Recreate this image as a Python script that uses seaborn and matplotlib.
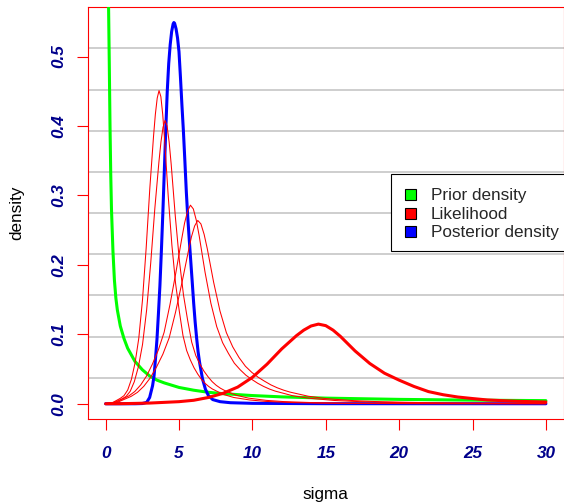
import matplotlib
matplotlib.use("Agg")
import matplotlib.pyplot as plt
import seaborn as sns
import pandas as pd
from matplotlib.patches import Patch, Rectangle
from matplotlib.legend_handler import HandlerPatch

# ---------------- data ----------------
prior_sigma = [0.1, 0.15, 0.2, 0.25, 0.3, 0.35, 0.4, 0.5, 0.6, 0.7, 0.8, 1.0, 1.25, 1.5,
               2.0, 2.5, 3.0, 3.5, 4.0, 5.0, 6.0, 7.0, 8.0, 10, 12, 15, 20, 25, 30]
prior_dens = [1.15, 0.77, 0.575, 0.49, 0.40, 0.33, 0.28, 0.22, 0.178, 0.152, 0.135, 0.112,
              0.094, 0.080, 0.061, 0.049, 0.040, 0.034, 0.030, 0.0235, 0.0195, 0.0165,
              0.0145, 0.0118, 0.0099, 0.0081, 0.0063, 0.0052, 0.0045]

post_sigma = [0, 1.0, 2.0, 2.5, 2.8, 3.0, 3.2, 3.3, 3.4, 3.5, 3.6, 3.7, 3.8, 3.9, 4.0, 4.1,
              4.2, 4.3, 4.4, 4.5, 4.6, 4.65, 4.7, 4.8, 4.9, 5.0, 5.1, 5.2, 5.3, 5.4, 5.5,
              5.6, 5.7, 5.8, 5.9, 6.0, 6.1, 6.2, 6.3, 6.4, 6.6, 6.8, 7.0, 7.3, 7.8, 8.5,
              10, 15, 30]
post_dens = [0, 0, 0, 0.0003, 0.002, 0.009, 0.026, 0.040, 0.065, 0.093, 0.130, 0.170,
             0.220, 0.275, 0.335, 0.395, 0.450, 0.490, 0.517, 0.536, 0.547, 0.549, 0.548,
             0.540, 0.527, 0.507, 0.470, 0.430, 0.393, 0.350, 0.305, 0.268, 0.236, 0.206,
             0.176, 0.145, 0.118, 0.095, 0.075, 0.060, 0.036, 0.021, 0.012, 0.006, 0.003,
             0.0015, 0.0006, 0.0001, 0]

# thick likelihood (all data)
lik_sigma = [0, 1, 2, 3, 4, 5, 6, 7, 8, 9, 10, 11, 12, 13, 13.5, 14, 14.5, 15, 15.5, 16,
             17, 18, 19, 20, 21, 22, 23, 24, 25, 26, 27, 28, 29, 30]
lik_dens = [0, 0.0001, 0.0005, 0.001, 0.002, 0.003, 0.005, 0.009, 0.015, 0.024, 0.038,
            0.057, 0.079, 0.098, 0.106, 0.112, 0.1147, 0.1125, 0.106, 0.097, 0.076, 0.058,
            0.044, 0.034, 0.025, 0.0175, 0.013, 0.0097, 0.0075, 0.0055, 0.0045, 0.0036,
            0.0030, 0.0025]

# thin likelihood curves
likA_sigma = [0, 0.502, 1.005, 1.256, 1.507, 1.758, 2.009, 2.260, 2.512, 2.763, 3.014,
              3.265, 3.389, 3.516, 3.64, 3.764, 3.891, 4.015, 4.266, 4.517, 4.768, 5.020,
              5.271, 5.522, 5.773, 6.024, 6.275, 6.527, 6.778, 7.029, 7.28, 8.008, 8.736,
              9.828, 10.92, 12.74, 14.56, 18.2, 21.84, 30.0]
likA_dens = [0, 0.00198, 0.00785, 0.01173, 0.01984, 0.03518, 0.05908, 0.09426, 0.14928,
             0.22415, 0.31074, 0.38515, 0.41672, 0.44018, 0.451, 0.44243, 0.41672, 0.38155,
             0.29901, 0.22821, 0.17318, 0.13350, 0.09832, 0.07667, 0.06314, 0.05187,
             0.04285, 0.03518, 0.02932, 0.02481, 0.0212, 0.01353, 0.00902, 0.00541, 0.00338,
             0.00171, 0.0009, 0.00032, 0.00014, 0.00005]

likB_sigma = [0, 0.559, 1.118, 1.397, 1.677, 1.956, 2.236, 2.515, 2.795, 3.074, 3.353,
              3.633, 3.771, 3.912, 4.05, 4.188, 4.329, 4.467, 4.747, 5.026, 5.306, 5.585,
              5.864, 6.144, 6.423, 6.703, 6.982, 7.262, 7.541, 7.821, 8.1, 8.91, 9.72,
              10.935, 12.15, 14.175, 16.2, 20.25, 24.3, 30.0]
likB_dens = [0, 0.0018, 0.0071, 0.0106, 0.018, 0.0318, 0.0534, 0.0853, 0.135, 0.2028,
             0.2811, 0.3484, 0.377, 0.3982, 0.408, 0.4002, 0.377, 0.3452, 0.2705, 0.2064,
             0.1567, 0.1208, 0.0889, 0.0694, 0.0571, 0.0469, 0.0388, 0.0318, 0.0265, 0.0224,
             0.0192, 0.0122, 0.0082, 0.0049, 0.0031, 0.0016, 0.0008, 0.0003, 0.0001, 0.00005]

likC_sigma = [0, 0.798, 1.595, 1.994, 2.393, 2.792, 3.191, 3.589, 3.988, 4.387, 4.786,
              5.185, 5.381, 5.583, 5.78, 5.977, 6.179, 6.375, 6.774, 7.173, 7.572, 7.971,
              8.369, 8.768, 9.167, 9.566, 9.965, 10.364, 10.762, 11.161, 11.56, 12.716,
              13.872, 15.606, 17.34, 20.23, 23.12, 30.0]
likC_dens = [0, 0.00286, 0.01144, 0.01773, 0.02717, 0.04004, 0.0572, 0.07722, 0.10296,
             0.143, 0.18876, 0.23738, 0.26026, 0.27742, 0.286, 0.28057, 0.26426, 0.24196,
             0.18962, 0.14472, 0.11100, 0.0880, 0.0725, 0.0585, 0.0490, 0.0410,
             0.0350, 0.0295, 0.0250, 0.0212, 0.0182, 0.0117, 0.0079, 0.0047,
             0.0030, 0.0016, 0.0009, 0.0003]

likD_sigma = [0, 0.867, 1.733, 2.167, 2.6, 3.033, 3.467, 3.9, 4.333, 4.767, 5.2, 5.633,
              5.847, 6.066, 6.28, 6.494, 6.713, 6.927, 7.36, 7.793, 8.227, 8.66, 9.093,
              9.527, 9.96, 10.393, 10.827, 11.26, 11.693, 12.127, 12.56, 13.816, 15.072,
              16.956, 18.84, 21.98, 25.12, 30.0]
likD_dens = [0, 0.00264, 0.01056, 0.01637, 0.02508, 0.03696, 0.0528, 0.07128, 0.09504,
             0.132, 0.17424, 0.21912, 0.24024, 0.25608, 0.264, 0.25898, 0.24394, 0.22334,
             0.17503, 0.13358, 0.10250, 0.0820, 0.0665, 0.0540, 0.0452, 0.0382,
             0.0325, 0.0272, 0.0230, 0.0196, 0.0168, 0.0108, 0.0073, 0.0044,
             0.0028, 0.0015, 0.0008, 0.0003]

x_ticks = [0, 5, 10, 15, 20, 25, 30]
x_tick_labels = ["0", "5", "10", "15", "20", "25", "30"]
y_ticks = [0.0, 0.1, 0.2, 0.3, 0.4, 0.5]
y_tick_labels = ["0.0", "0.1", "0.2", "0.3", "0.4", "0.5"]
legend_labels = ["Prior density", "Likelihood", "Posterior density"]
legend_colors = ["#00FF00", "#FF0000", "#0000FF"]

# ---------------- styling ----------------
sns.set_style("white")
plt.rcParams["font.family"] = ["Liberation Sans", "DejaVu Sans"]

W, H = 564, 503
fig = plt.figure(figsize=(W / 100, H / 100), dpi=100)
left, right, top, bottom = 88, 563.5, 7.3, 419
ax = fig.add_axes([left / W, (H - bottom) / H, (right - left) / W, (bottom - top) / H])

ymax = max(post_dens)
y0, y1 = -0.04 * ymax, 1.04 * ymax
ax.set_xlim(-1.2, 31.2)
ax.set_ylim(y0, y1)

# grid (10 equal cells of the plot region)
for k in range(1, 10):
    ax.axhline(y0 + k * (y1 - y0) / 10, color="#C4C4C4", lw=1.15, zorder=1)

thin = 0.75
thick = 2.2
sns.lineplot(x=prior_sigma, y=prior_dens, ax=ax, color="#00FF00", lw=thick,
             sort=False, estimator=None, zorder=3)
sns.lineplot(x=post_sigma, y=post_dens, ax=ax, color="#0000FF", lw=thick,
             sort=False, estimator=None, zorder=3)
for xs, ys in [(likA_sigma, likA_dens), (likB_sigma, likB_dens),
               (likC_sigma, likC_dens), (likD_sigma, likD_dens)]:
    sns.lineplot(x=xs, y=ys, ax=ax, color="#FF0000", lw=thin,
                 sort=False, estimator=None, zorder=4)
sns.lineplot(x=lik_sigma, y=lik_dens, ax=ax, color="#FF0000", lw=thick,
             sort=False, estimator=None, zorder=5)

for sp in ax.spines.values():
    sp.set_color("#FF0000")
    sp.set_linewidth(0.8)
    sp.set_visible(True)

tick_font = dict(family=["Liberation Sans", "DejaVu Sans"], weight="bold",
                 style="italic", size=12.3, color="#00008B")
ax.set_xticks(x_ticks)
ax.set_xticklabels(x_tick_labels, **tick_font)
ax.set_yticks(y_ticks)
ax.set_yticklabels(y_tick_labels, **tick_font)
for lbl in ax.get_yticklabels():
    lbl.set_rotation(90)
    lbl.set_va("center")
    lbl.set_ha("right")
ax.tick_params(axis="both", direction="out", length=7.9, width=0.8, color="#FF0000",
               bottom=True, left=True)
ax.tick_params(axis="x", pad=11.2)
ax.tick_params(axis="y", pad=7.7)

ax.set_xlabel("sigma", fontsize=12.3, color="black", va="center")
ax.xaxis.set_label_coords(0.5, (bottom - 494) / (bottom - top))
ax.set_ylabel("density", fontsize=12.3, color="black", va="center", ha="center")
ax.yaxis.set_label_coords((17 - left) / (right - left), 0.5)


def square(legend, orig_handle, xdescent, ydescent, width, height, fontsize):
    s = 7.9
    return Rectangle((-xdescent, -ydescent + (height - s) / 2), s, s)


# legend frame (R style box, pinned to the right edge of the plot)
frame = Rectangle((391 / W, (H - 251) / H), (W + 20 - 391) / W, 77 / H,
                  transform=fig.transFigure, facecolor="white", edgecolor="black",
                  linewidth=0.8, clip_on=False, zorder=9)
ax.add_patch(frame)

handles = [Patch(facecolor=c, edgecolor="black", linewidth=0.8) for c in legend_colors]
leg = ax.legend(handles, legend_labels, loc="upper left",
                bbox_to_anchor=(405 / W, 1 - 187 / H), bbox_transform=fig.transFigure,
                borderaxespad=0.0, borderpad=0.0, fontsize=12.3, frameon=False,
                labelspacing=0.11, handlelength=0.642, handleheight=1.0,
                handletextpad=0.88,
                handler_map={Patch: HandlerPatch(patch_func=square)})
leg.set_zorder(10)

fig.savefig("out.png", dpi=100)
